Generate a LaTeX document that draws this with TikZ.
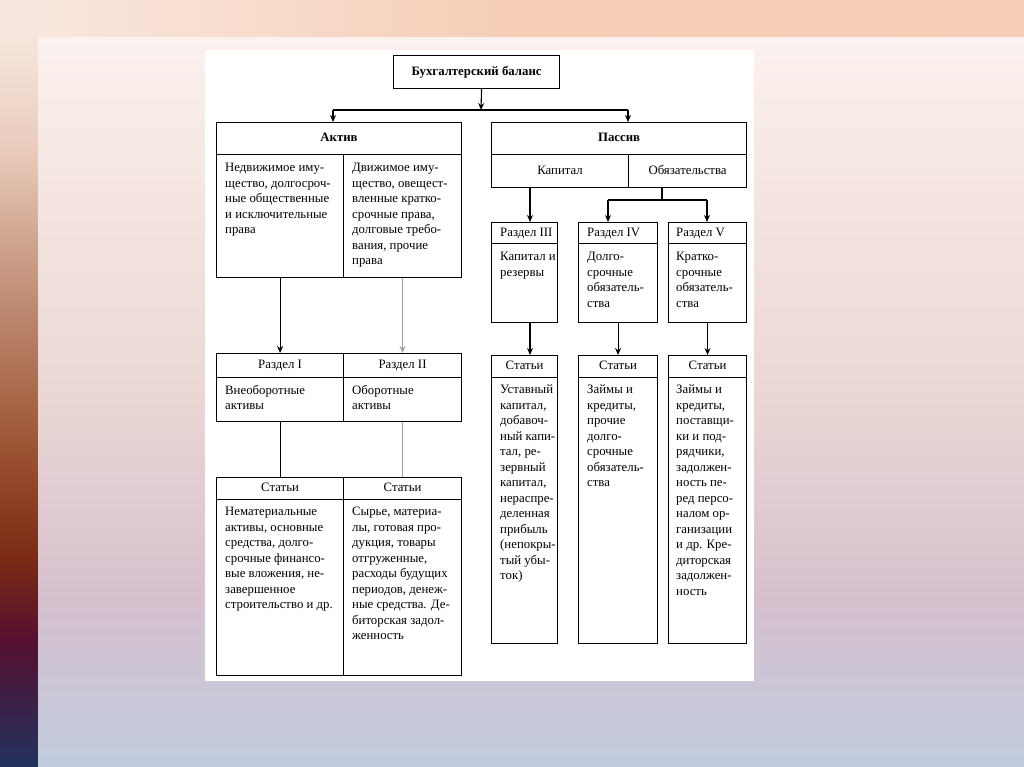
\documentclass[tikz,border=0pt]{standalone}
\usepackage{fontspec}
\setmainfont{Liberation Serif}
\usetikzlibrary{arrows.meta}
\definecolor{lbA}{HTML}{F6E6DD}
\definecolor{lbB}{HTML}{E9CBBB}
\definecolor{lbC}{HTML}{BF8C74}
\definecolor{lbD}{HTML}{9C5332}
\definecolor{lbE}{HTML}{7A2A14}
\definecolor{lbF}{HTML}{561030}
\definecolor{lbG}{HTML}{22325E}
\definecolor{tbA}{HTML}{F9E7DE}
\definecolor{tbM}{HTML}{F6CDB5}
\definecolor{tbB}{HTML}{F7CFB8}
\definecolor{slA}{HTML}{FBF1EE}
\definecolor{slB}{HTML}{F4E5E0}
\definecolor{slC}{HTML}{EAD7D4}
\definecolor{slD}{HTML}{D6C0CE}
\definecolor{slE}{HTML}{C1CCDE}
\definecolor{lgray}{HTML}{A0A0A0}
\begin{document}
\begin{tikzpicture}[x=1pt,y=-1pt,
  cell/.style={draw=black,line width=1.1pt,fill=white,inner sep=0pt,anchor=north west},
  hdr/.style={font=\fontsize{12.8}{15.5}\selectfont,text height=8.5pt,text depth=2.5pt},
  hdrb/.style={font=\fontsize{12.8}{15.5}\selectfont\bfseries,text height=8.5pt,text depth=2.5pt},
  body/.style={font=\fontsize{12.8}{15.5}\selectfont,align=left,inner sep=0pt,anchor=north west},
  conn/.style={line width=1.1pt,draw=black},
  arr/.style={conn,-{Stealth[length=7pt,width=6pt]}},
  garr/.style={line width=1.1pt,draw=lgray,-{Stealth[length=7pt,width=6pt]}},
  gconn/.style={line width=1.1pt,draw=lgray}]
\useasboundingbox (0,0) rectangle (1024,767);
% background
\fill[lbA] (0,0) rectangle (38,38);
\shade[left color=tbA,right color=tbB,middle color=tbM] (38,0) rectangle (1024,38);
\shade[top color=lbA,bottom color=lbB] (0,38) rectangle (38,150);
\shade[top color=lbB,bottom color=lbC] (0,149.5) rectangle (38,300);
\shade[top color=lbC,bottom color=lbD] (0,299.5) rectangle (38,450);
\shade[top color=lbD,bottom color=lbE] (0,449.5) rectangle (38,560);
\shade[top color=lbE,bottom color=lbF] (0,559.5) rectangle (38,640);
\shade[top color=lbF,bottom color=lbG] (0,639.5) rectangle (38,767);
\shade[top color=slA,bottom color=slB] (38,38) rectangle (1024,200);
\shade[top color=slB,bottom color=slC] (38,199.5) rectangle (1024,400);
\shade[top color=slC,bottom color=slD] (38,399.5) rectangle (1024,600);
\shade[top color=slD,bottom color=slE] (38,599.5) rectangle (1024,767);
\fill[white] (205,50) rectangle (754,681);
% top
\node[cell,hdrb,minimum width=166pt,minimum height=33pt] (T) at (393,55) {Бухгалтерский баланс};
% Aktiv
\node[cell,hdrb,minimum width=245pt,minimum height=32pt] (A) at (216,122) {Актив};
\node[cell,minimum width=127pt,minimum height=123pt] (A1) at (216,154) {};
\node[cell,minimum width=118pt,minimum height=123pt] (A2) at (343,154) {};
\node[body] (A1t) at ([shift={(9pt,-9pt)}]A1.north west) {Недвижимое иму-\\щество, долгосроч-\\ные общественные\\и исключительные\\права};
\node[body] (A2t) at ([shift={(9pt,-9pt)}]A2.north west) {Движимое иму-\\щество, овещест-\\вленные кратко-\\срочные права,\\долговые требо-\\вания, прочие\\права};
% Razdel I, II
\node[cell,hdr,minimum width=127pt,minimum height=24pt] (D1h) at (216,353) {Раздел I};
\node[cell,hdr,minimum width=118pt,minimum height=24pt] (D2h) at (343,353) {Раздел II};
\node[cell,minimum width=127pt,minimum height=44pt] (D1b) at (216,377) {};
\node[cell,minimum width=118pt,minimum height=44pt] (D2b) at (343,377) {};
\node[body] (D1t) at ([shift={(9pt,-8pt)}]D1b.north west) {Внеоборотные\\активы};
\node[body] (D2t) at ([shift={(9pt,-8pt)}]D2b.north west) {Оборотные\\активы};
% Stati left
\node[cell,hdr,minimum width=127pt,minimum height=22pt] (L1h) at (216,477) {Статьи};
\node[cell,hdr,minimum width=118pt,minimum height=22pt] (L2h) at (343,477) {Статьи};
\node[cell,minimum width=127pt,minimum height=176pt] (L1b) at (216,499) {};
\node[cell,minimum width=118pt,minimum height=176pt] (L2b) at (343,499) {};
\node[body] (L1t) at ([shift={(9pt,-8pt)}]L1b.north west) {Нематериальные\\активы, основные\\средства, долго-\\срочные финансо-\\вые вложения, не-\\завершенное\\строительство и др.};
\node[body] (L2t) at ([shift={(9pt,-8pt)}]L2b.north west) {Сырье, материа-\\лы, готовая про-\\дукция, товары\\отгруженные,\\расходы будущих\\периодов, денеж-\\ные средства. Де-\\биторская задол-\\женность};
% Passiv
\node[cell,hdrb,minimum width=255pt,minimum height=32pt] (P) at (491,122) {Пассив};
\node[cell,hdr,minimum width=137pt,minimum height=33pt] (P1) at (491,154) {Капитал};
\node[cell,hdr,minimum width=118pt,minimum height=33pt] (P2) at (628,154) {Обязательства};
% Razdel III-V
\node[cell,minimum width=66pt,minimum height=21pt] (R3h) at (491,222) {};
\node[cell,minimum width=79pt,minimum height=21pt] (R4h) at (578,222) {};
\node[cell,minimum width=78pt,minimum height=21pt] (R5h) at (668,222) {};
\node[body,anchor=west,text height=8.5pt,text depth=2.5pt] (R3l) at ([xshift=9pt]R3h.west) {Раздел III};
\node[body,anchor=west,text height=8.5pt,text depth=2.5pt] (R4l) at ([xshift=9pt]R4h.west) {Раздел IV};
\node[body,anchor=west,text height=8.5pt,text depth=2.5pt] (R5l) at ([xshift=8pt]R5h.west) {Раздел V};
\node[cell,minimum width=66pt,minimum height=79pt] (R3b) at (491,243) {};
\node[cell,minimum width=79pt,minimum height=79pt] (R4b) at (578,243) {};
\node[cell,minimum width=78pt,minimum height=79pt] (R5b) at (668,243) {};
\node[body] (R3t) at ([shift={(9pt,-9pt)}]R3b.north west) {Капитал и\\резервы};
\node[body] (R4t) at ([shift={(9pt,-9pt)}]R4b.north west) {Долго-\\срочные\\обязатель-\\ства};
\node[body] (R5t) at ([shift={(8pt,-9pt)}]R5b.north west) {Кратко-\\срочные\\обязатель-\\ства};
% Stati right
\node[cell,hdr,minimum width=66pt,minimum height=22pt] (S3h) at (491,355) {Статьи};
\node[cell,hdr,minimum width=79pt,minimum height=22pt] (S4h) at (578,355) {Статьи};
\node[cell,hdr,minimum width=78pt,minimum height=22pt] (S5h) at (668,355) {Статьи};
\node[cell,minimum width=66pt,minimum height=266pt] (S3b) at (491,377) {};
\node[cell,minimum width=79pt,minimum height=266pt] (S4b) at (578,377) {};
\node[cell,minimum width=78pt,minimum height=266pt] (S5b) at (668,377) {};
\node[body] (S3t) at ([shift={(9pt,-8pt)}]S3b.north west) {Уставный\\капитал,\\добавоч-\\ный капи-\\тал, ре-\\зервный\\капитал,\\нераспре-\\деленная\\прибыль\\(непокры-\\тый убы-\\ток)};
\node[body] (S4t) at ([shift={(9pt,-8pt)}]S4b.north west) {Займы и\\кредиты,\\прочие\\долго-\\срочные\\обязатель-\\ства};
\node[body] (S5t) at ([shift={(8pt,-8pt)}]S5b.north west) {Займы и\\кредиты,\\поставщи-\\ки и под-\\рядчики,\\задолжен-\\ность пе-\\ред персо-\\налом ор-\\ганизации\\и др. Кре-\\диторская\\задолжен-\\ность};
% connectors
\coordinate (J) at (481,110);
\coordinate (JL) at (333,110);
\coordinate (JR) at (628,110);
\draw[conn] (JL) -- (JR);
\draw[arr] ([xshift=5pt]T.south) -- (J);
\draw[arr] (JL) -- (JL |- A.north);
\draw[arr] (JR) -- (JR |- P.north);
\coordinate (c3) at (530,0);
\draw[arr] (P1.south -| c3) -- (R3h.north -| c3);
\coordinate (OJ) at (662,200);
\coordinate (OL) at (608,200);
\coordinate (OR) at (707,200);
\draw[conn] (OJ |- P2.south) -- (OJ);
\draw[conn] (OL) -- (OR);
\draw[arr] (OL) -- (OL |- R4h.north);
\draw[arr] (OR) -- (OR |- R5h.north);
\draw[arr] (R3b.south -| c3) -- (S3h.north -| c3);
\draw[arr] (R4b.south) -- (S4h.north);
\draw[arr] (R5b.south) -- (S5h.north);
\draw[arr] (A1.south) -- (D1h.north);
\draw[garr] (A2.south) -- (D2h.north);
\draw[conn] (D1b.south) -- (L1h.north);
\draw[gconn] (D2b.south) -- (L2h.north);
\end{tikzpicture}
\end{document}
